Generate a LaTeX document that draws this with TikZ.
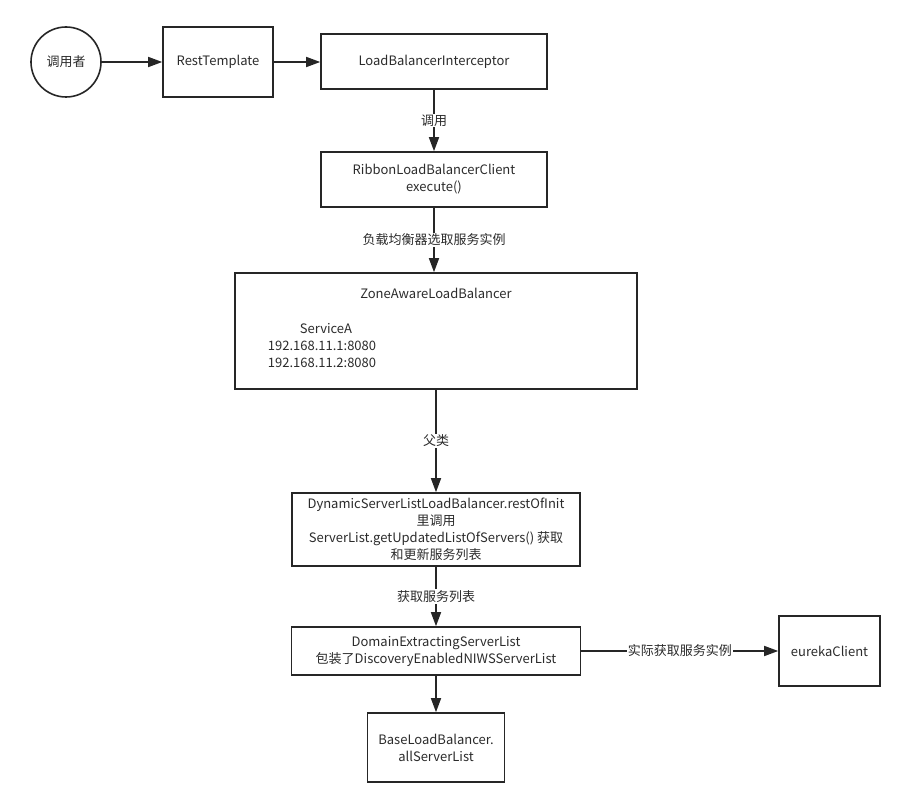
\documentclass[tikz,border=0pt]{standalone}
\usepackage{fontspec}
\setmainfont{Noto Sans CJK SC}
\usetikzlibrary{arrows.meta}
\definecolor{linec}{HTML}{262626}
\definecolor{textc}{HTML}{2b2b2b}
\begin{document}
\begin{tikzpicture}[x=1pt,y=-1pt,
  every node/.style={font=\fontsize{13}{17}\selectfont, text=textc},
  box/.style={draw=linec, line width=1.6pt, rectangle, inner sep=0pt, align=center},
  conn/.style={draw=linec, line width=1.6pt, -{Triangle[length=14pt,width=10pt]}},
  lbl/.style={fill=white, inner sep=1pt}]
\useasboundingbox (0,0) rectangle (916,802);

\node[draw=linec, line width=1.6pt, circle, minimum size=70pt, inner sep=0pt] (caller) at (66,62) {调用者};
\node[box, minimum width=110pt, minimum height=70pt] (rest) at (218,62) {RestTemplate};
\node[box, minimum width=226pt, minimum height=55pt] (lbi) at (434,61.5) {LoadBalancerInterceptor};
\node[box, minimum width=226pt, minimum height=55pt] (ribbon) at (434,179.5) {RibbonLoadBalancerClient\\execute()};
\node[box, minimum width=402pt, minimum height=116pt] (zone) at (436,331) {};
\node (zonetitle) at (436,293) {ZoneAwareLoadBalancer};
\node[align=center, inner sep=0pt] (service) at (322,346) {\hspace*{8pt}ServiceA\\192.168.11.1:8080\\192.168.11.2:8080};
\node[box, minimum width=288pt, minimum height=73pt] (dyn) at (436,529.5) {DynamicServerListLoadBalancer.restOfInit\\里调用\\ServerList.getUpdatedListOfServers() 获取\\和更新服务列表};
\node[box, minimum width=289pt, minimum height=48pt] (dom) at (436,651) {DomainExtractingServerList\\包装了DiscoveryEnabledNIWSServerList};
\node[box, minimum width=101pt, minimum height=70pt] (eureka) at (829.5,651) {eurekaClient};
\node[box, minimum width=137pt, minimum height=69pt] (base) at (436,747.5) {BaseLoadBalancer.\\allServerList};

\draw[conn] (caller) -- (rest);
\draw[conn] (rest.east) -- (rest.east -| lbi.west);
\draw[conn] (lbi) -- node[lbl] (l1) {调用} (ribbon);
\draw[conn] (ribbon.south) -- node[lbl] (l2) {负载均衡器选取服务实例} (ribbon.south |- zone.north);
\draw[conn] (zone.south) -- node[lbl] (l3) {父类} (dyn.north);
\draw[conn] (dyn.south) -- node[lbl] (l4) {获取服务列表} (dom.north);
\draw[conn] (dom.east) -- node[lbl] (l5) {实际获取服务实例} (eureka.west);
\draw[conn] (dom.south) -- (base.north);
\end{tikzpicture}
\end{document}
